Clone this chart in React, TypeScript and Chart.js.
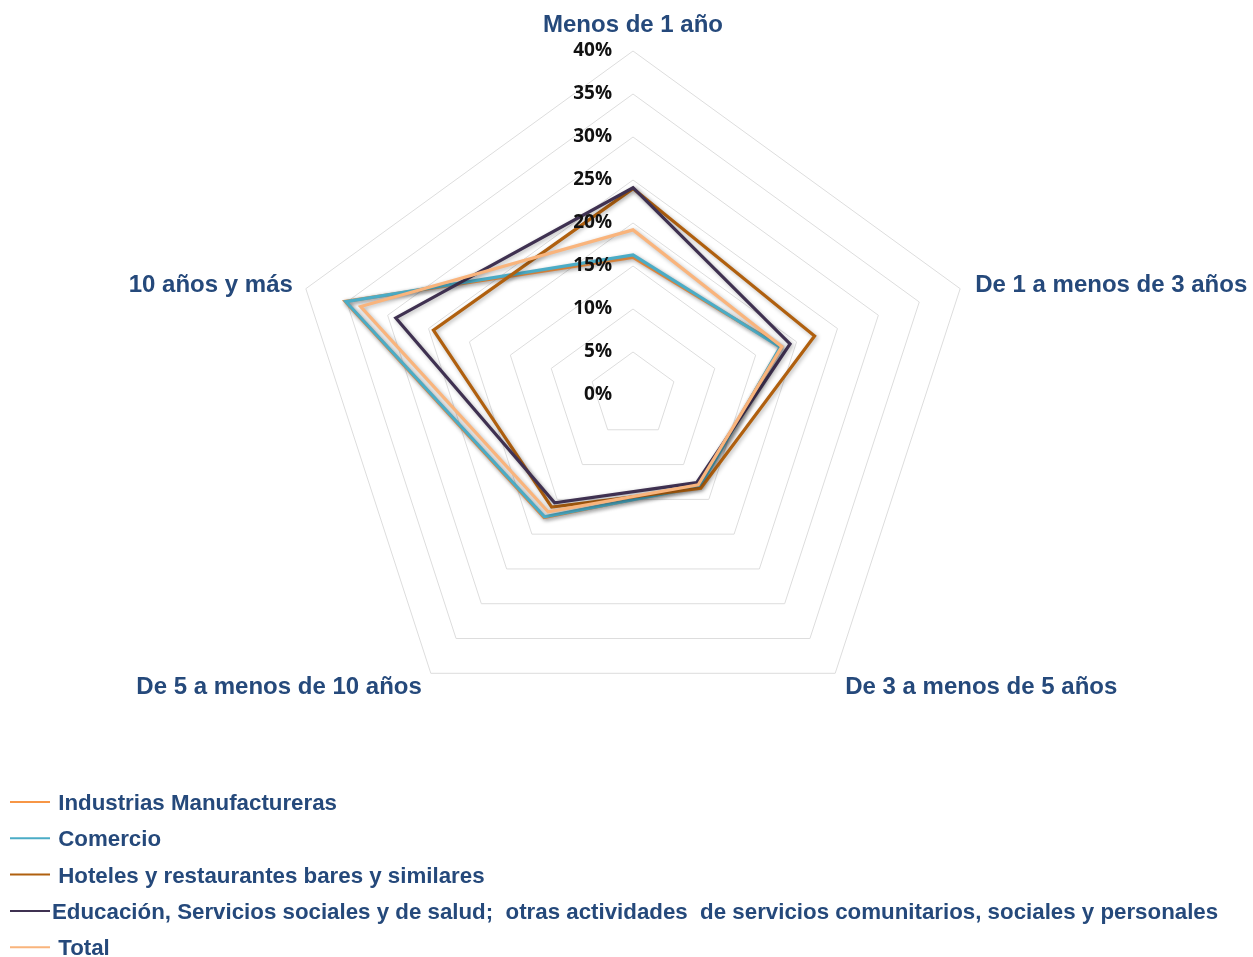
import React, { useEffect, useRef } from "react";
import { Chart, registerables } from "chart.js";
Chart.register(...registerables);

const categories = [
  "Menos de 1 año",
  "De 1 a menos de 3 años",
  "De 3 a menos de 5 años",
  "De 5 a menos de 10 años",
  "10 años y más",
];
const seriesNames = [
  " Industrias Manufactureras",
  " Comercio",
  " Hoteles y restaurantes bares y similares",
  "Educación, Servicios sociales y de salud;  otras actividades  de servicios comunitarios, sociales y personales",
  " Total",
];
const industrias = [16.0, 18.1, 13.1, 17.6, 35.2];
const comercio = [16.3, 18.0, 13.2, 17.5, 35.1];
const hoteles = [24.0, 22.2, 13.4, 16.1, 24.4];
const educacion = [24.1, 19.2, 12.6, 15.5, 29.0];
const total = [19.2, 18.2, 12.9, 16.8, 33.3];
const seriesValues = [industrias, comercio, hoteles, educacion, total];
const seriesColors = ["#F79646", "#4BACC6", "#B0600F", "#3F3151", "#F9B47C"];
const tickMin = 0;
const tickMax = 40;
const tickStep = 5;

const LABEL_COLOR = "#25497B";
const LABEL_FONT = 'bold 24px "Liberation Sans", Arial, sans-serif';
const TICK_FONT = 'bold 19px "Open Sans", "Noto Sans", sans-serif';
const LEGEND_FONT = 'bold 22.3px "Liberation Sans", Arial, sans-serif';

// offsets of category labels relative to the outer vertex: dx, dy (baseline), align
const labelPlacement: [number, number, CanvasTextAlign][] = [
  [0, -19.5, "center"],
  [15, 3, "left"],
  [10, 21, "left"],
  [-9, 21, "right"],
  [-13, 3, "right"],
];

const decorPlugin = {
  id: "decor",
  beforeDatasetsDraw(chart: any) {
    const ctx = chart.ctx;
    ctx.save();
    ctx.shadowColor = "rgba(0,0,0,0.3)";
    ctx.shadowBlur = 4;
    ctx.shadowOffsetX = 1.5;
    ctx.shadowOffsetY = 1.5;
  },
  afterDatasetsDraw(chart: any) {
    chart.ctx.restore();
  },
  afterDraw(chart: any) {
    const ctx = chart.ctx;
    const scale = chart.scales.r;
    ctx.save();
    // tick labels
    ctx.font = TICK_FONT;
    ctx.fillStyle = "#111111";
    ctx.textAlign = "right";
    ctx.textBaseline = "middle";
    scale.ticks.forEach((t: any) => {
      const d = scale.getDistanceFromCenterForValue(t.value);
      ctx.fillText(t.value + "%", scale.xCenter - 21, scale.yCenter - d);
    });
    // category labels
    ctx.font = LABEL_FONT;
    ctx.fillStyle = LABEL_COLOR;
    ctx.textBaseline = "alphabetic";
    chart.data.labels.forEach((lab: string, i: number) => {
      const p = scale.getPointPosition(i, scale.drawingArea);
      const [dx, dy, align] = labelPlacement[i];
      ctx.textAlign = align;
      ctx.fillText(lab, p.x + dx, p.y + dy);
    });
    // legend
    ctx.font = LEGEND_FONT;
    ctx.textAlign = "left";
    chart.data.datasets.forEach((ds: any, i: number) => {
      const base = 810 + i * 36.3;
      ctx.strokeStyle = ds.borderColor;
      ctx.lineWidth = 2;
      ctx.beginPath();
      ctx.moveTo(10, base - 8);
      ctx.lineTo(50, base - 8);
      ctx.stroke();
      ctx.fillStyle = LABEL_COLOR;
      ctx.fillText(ds.label, 52, base);
    });
    ctx.restore();
  },
};

export default function App() {
  const ref = useRef<HTMLCanvasElement | null>(null);
  useEffect(() => {
    document.body.style.margin = "0";
    const canvas = ref.current;
    if (!canvas) return;
    const n = seriesValues.length;
    const chart = new Chart(canvas, {
      type: "radar",
      data: {
        labels: categories,
        datasets: seriesValues.map((vals, i) => ({
          label: seriesNames[i],
          data: vals,
          borderColor: seriesColors[i],
          backgroundColor: seriesColors[i],
          borderWidth: 3.2,
          fill: false,
          pointRadius: 0,
          pointHoverRadius: 0,
          tension: 0,
          order: n - i,
        })),
      },
      options: {
        animation: false,
        responsive: false,
        maintainAspectRatio: false,
        layout: { padding: { left: 289, top: 51, right: 276, bottom: 218 } },
        plugins: { legend: { display: false }, tooltip: { enabled: false } },
        scales: {
          r: {
            min: tickMin,
            max: tickMax,
            ticks: { stepSize: tickStep, display: false },
            grid: { color: "#DDDDDD", lineWidth: 1 },
            angleLines: { display: false },
            pointLabels: { display: false },
          },
        },
      },
      plugins: [decorPlugin],
    });
    return () => chart.destroy();
  }, []);
  return (
    <div style={{ position: "absolute", left: 0, top: 0, width: 1253, height: 957, background: "#fff" }}>
      <canvas ref={ref} width={1253} height={957} style={{ display: "block" }} />
    </div>
  );
}
